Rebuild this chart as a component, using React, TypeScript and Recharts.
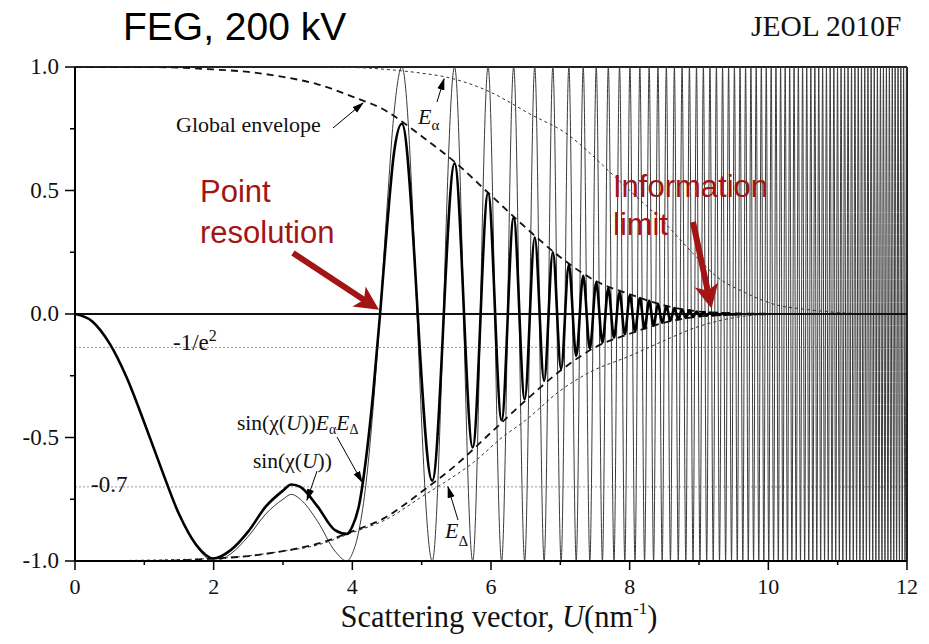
import React from "react";
import { LineChart, Line, XAxis, YAxis, ReferenceLine } from "recharts";

// Scattering vector U (nm^-1) for the smooth part of the transfer function
const headU = [0, 0.25, 0.5, 0.75, 1.0, 1.25, 1.5, 1.75, 2.0, 2.25, 2.5, 2.75, 3.0, 3.12, 3.25, 3.5, 3.75, 3.92, 4.0, 4.1, 4.2, 4.3, 4.4, 4.5, 4.6];
// sin(chi(U)) over headU
const thinHead = [0, -0.03, -0.12, -0.26, -0.44, -0.63, -0.81, -0.94, -1.0, -0.97, -0.9, -0.81, -0.75, -0.73, -0.75, -0.84, -0.96, -1.0, -0.97, -0.87, -0.68, -0.38, 0, 0.43, 0.81];
// sin(chi(U)) * Ea * Ed over headU
const thickHead = [0, -0.03, -0.12, -0.26, -0.44, -0.63, -0.81, -0.935, -0.99, -0.955, -0.88, -0.78, -0.715, -0.69, -0.7, -0.78, -0.875, -0.89, -0.86, -0.77, -0.58, -0.32, 0, 0.35, 0.65];

// U of each successive max / min of the oscillation (first one is a +1 peak)
const extremaU = [
  4.714, 5.153, 5.475, 5.736, 5.958, 6.153, 6.327, 6.486, 6.631, 6.766,
  6.892, 7.011, 7.123, 7.229, 7.33, 7.426, 7.518, 7.607, 7.692, 7.774,
  7.854, 7.93, 8.004, 8.077, 8.147, 8.215, 8.281, 8.345, 8.408, 8.469,
  8.529, 8.588, 8.645, 8.701, 8.756, 8.81, 8.862, 8.914, 8.964, 9.014,
  9.063, 9.111, 9.158, 9.205, 9.251, 9.296, 9.34, 9.384, 9.427, 9.469,
  9.511, 9.552, 9.592, 9.632, 9.672, 9.711, 9.749, 9.787, 9.825, 9.862,
  9.899, 9.935, 9.97, 10.006, 10.041, 10.076, 10.11, 10.144, 10.177, 10.21,
  10.243, 10.276, 10.308, 10.34, 10.371, 10.402, 10.433, 10.464, 10.494, 10.524,
  10.554, 10.583, 10.613, 10.642, 10.671, 10.699, 10.727, 10.755, 10.783, 10.811,
  10.838, 10.865, 10.892, 10.919, 10.945, 10.972, 10.998, 11.024, 11.049, 11.075,
  11.1, 11.126, 11.15, 11.175, 11.2, 11.225, 11.249, 11.273, 11.297, 11.321,
  11.344, 11.368, 11.391, 11.414, 11.437, 11.46, 11.483, 11.506, 11.528, 11.551,
  11.573, 11.595, 11.617, 11.639, 11.66, 11.682, 11.703, 11.725, 11.746, 11.767,
  11.788, 11.809, 11.829, 11.85, 11.871, 11.891, 11.911, 11.931, 11.951, 11.971,
  11.991,
];

// damped peak heights at the first extrema
const thickAmp = [
  0.77, 0.675, 0.61, 0.54, 0.49, 0.43, 0.39, 0.345, 0.31, 0.27,
  0.25, 0.223, 0.2, 0.17, 0.155, 0.14, 0.128, 0.116, 0.105, 0.096,
  0.088, 0.082, 0.077, 0.071, 0.065, 0.059, 0.053, 0.047, 0.041, 0.036,
  0.031, 0.027, 0.024, 0.021, 0.018, 0.016, 0.014, 0.012, 0.01, 0.009,
  0.008, 0.007, 0.006, 0.005, 0.004, 0.004, 0.003, 0.003, 0.002, 0.002,
];
const thickTailU = [9.55];
const thickTail = [0];

// global envelope Ea*Ed
const globalEnvU = [0, 1, 1.5, 2, 2.5, 3, 3.5, 4, 4.5, 4.71, 5.0, 5.5, 6.0, 6.5, 7.0, 7.5, 8.0, 8.5, 9.0, 9.5, 10, 10.5];
const globalEnv = [1, 1, 0.997, 0.99, 0.98, 0.96, 0.93, 0.88, 0.82, 0.78, 0.72, 0.61, 0.48, 0.35, 0.23, 0.135, 0.08, 0.035, 0.01, 0.003, 0.001, 0];
// spatial coherence envelope Ea
const alphaEnvU = [0, 3, 4, 4.5, 5.0, 5.34, 5.94, 6.56, 7.14, 7.43, 7.62, 8.0, 8.5, 9.0, 9.26, 9.64, 10.14, 10.5, 11.0, 11.5];
const alphaEnv = [1, 1, 0.998, 0.99, 0.975, 0.96, 0.905, 0.81, 0.72, 0.65, 0.6, 0.5, 0.37, 0.22, 0.15, 0.09, 0.035, 0.02, 0.006, 0];
// temporal coherence envelope Ed
const deltaEnvU = [0, 2, 3, 3.5, 4, 4.5, 5.0, 5.34, 5.75, 6.16, 6.5, 7.0, 7.43, 8.0, 8.44, 9.0, 9.5, 10];
const deltaEnv = [1, 0.99, 0.96, 0.935, 0.885, 0.83, 0.74, 0.68, 0.6, 0.5, 0.43, 0.31, 0.235, 0.17, 0.115, 0.05, 0.015, 0];

const xTicks = [0, 1, 2, 3, 4, 5, 6, 7, 8, 9, 10, 11, 12];
const yTicks = [-1, -0.75, -0.5, -0.25, 0, 0.25, 0.5, 0.75, 1];
const invE2Level = -0.1353;
const levelPoint7 = -0.7;

const SERIF = "'Liberation Serif', 'Times New Roman', serif";
const SANS = "'Liberation Sans', Arial, sans-serif";
const RED = "#a31414";

const pts = (us: number[], vs: number[]) => us.map((u, i) => ({ x: u, y: vs[i] }));

const thinData = [
  ...pts(headU, thinHead),
  ...extremaU.map((u, i) => ({ x: u, y: i % 2 === 0 ? 1 : -1 })),
];
const thickData = [
  ...pts(headU, thickHead),
  ...thickAmp.map((a, i) => ({ x: extremaU[i], y: i % 2 === 0 ? a : -a })),
  ...pts(thickTailU, thickTail),
];
const globalUpper = pts(globalEnvU, globalEnv);
const globalLower = pts(globalEnvU, globalEnv.map((v) => -v));
const alphaUpper = pts(alphaEnvU, alphaEnv);
const deltaLower = pts(deltaEnvU, deltaEnv.map((v) => -v));

const XTick = (props: any) => {
  const { x, y, payload } = props;
  const major = payload.value % 2 === 0;
  return (
    <g>
      <line x1={x} x2={x} y1={y} y2={y + (major ? 9 : 4)} stroke="#000" strokeWidth={1.5} />
      {major && (
        <text x={x} y={y + 33} textAnchor="middle" fontFamily={SERIF} fontSize={22} fill="#111">
          {payload.value}
        </text>
      )}
    </g>
  );
};

const YTick = (props: any) => {
  const { x, y, payload } = props;
  const major = payload.value % 0.5 === 0;
  return (
    <g>
      <line x1={x - (major ? 10 : 5)} x2={x} y1={y} y2={y} stroke="#000" strokeWidth={1.5} />
      {major && (
        <text x={x - 16} y={y + 7} textAnchor="end" fontFamily={SERIF} fontSize={23} fill="#111">
          {payload.value.toFixed(1)}
        </text>
      )}
    </g>
  );
};

const Annotations = () => (
  <svg width={929} height={644} style={{ position: "absolute", left: 0, top: 0, pointerEvents: "none" }}>
    <defs>
      <marker id="tipBlack" viewBox="0 0 10 10" refX="9" refY="5" markerWidth="12" markerHeight="12" orient="auto">
        <path d="M0,2 L10,5 L0,8 z" fill="#000" />
      </marker>
      <marker id="tipRed" viewBox="0 0 10 10" refX="3" refY="5" markerUnits="userSpaceOnUse" markerWidth="24" markerHeight="24" orient="auto">
        <path d="M0,0 L10,5 L0,10 L2.5,5 z" fill={RED} />
      </marker>
    </defs>

    <text x={123} y={40} fontFamily={SANS} fontSize={39} fill="#000">FEG, 200 kV</text>
    <text x={751} y={36} fontFamily={SERIF} fontSize={29.5} fill="#111">JEOL 2010F</text>

    <text x={176} y={132} fontFamily={SERIF} fontSize={22} fill="#111">Global envelope</text>
    <line x1={333} y1={128} x2={363} y2={103} stroke="#000" strokeWidth={1} markerEnd="url(#tipBlack)" />

    <text x={418} y={124} fontFamily={SERIF} fontSize={22} fontStyle="italic" fill="#111">
      E<tspan fontSize={15} fontStyle="normal" dy={6}>α</tspan>
    </text>
    <line x1={437} y1={102} x2={444} y2={79} stroke="#000" strokeWidth={1} markerEnd="url(#tipBlack)" />

    <text x={237} y={430} fontFamily={SERIF} fontSize={21.5} fill="#111">
      sin(χ(<tspan fontStyle="italic">U</tspan>))<tspan fontStyle="italic">E</tspan>
      <tspan fontSize={14} dy={4}>α</tspan>
      <tspan fontStyle="italic" dy={-4}>E</tspan>
      <tspan fontSize={14} dy={4}>Δ</tspan>
    </text>
    <line x1={337} y1={437} x2={362} y2={482} stroke="#000" strokeWidth={1} markerEnd="url(#tipBlack)" />

    <text x={253} y={468} fontFamily={SERIF} fontSize={21.5} fill="#111">
      sin(χ(<tspan fontStyle="italic">U</tspan>))
    </text>
    <line x1={317} y1={471} x2={307} y2={500} stroke="#000" strokeWidth={1} markerEnd="url(#tipBlack)" />

    <text x={445} y={538} fontFamily={SERIF} fontSize={22} fontStyle="italic" fill="#111">
      E<tspan fontSize={15} fontStyle="normal" dy={8}>Δ</tspan>
    </text>
    <line x1={458} y1={520} x2={448} y2={487} stroke="#000" strokeWidth={1} markerEnd="url(#tipBlack)" />

    <text x={173} y={350} fontFamily={SERIF} fontSize={23} fill="#111">
      -1/e<tspan fontSize={16} dy={-9}>2</tspan>
    </text>
    <text x={91} y={492} fontFamily={SERIF} fontSize={23} fill="#111">-0.7</text>

    <text x={200} y={202} fontFamily={SANS} fontSize={31} fill={RED}>Point</text>
    <text x={200} y={243} fontFamily={SANS} fontSize={31} fill={RED}>resolution</text>
    <line x1={293} y1={253} x2={365} y2={300.5} stroke={RED} strokeWidth={6} markerEnd="url(#tipRed)" />

    <text x={613} y={197} fontFamily={SANS} fontSize={31} fill={RED}>Information</text>
    <text x={613} y={235} fontFamily={SANS} fontSize={31} fill={RED}>limit</text>
    <line x1={693} y1={222} x2={708} y2={292} stroke={RED} strokeWidth={6} markerEnd="url(#tipRed)" />

    <text x={499} y={627} textAnchor="middle" fontFamily={SERIF} fontSize={30.5} fill="#111">
      Scattering vector, <tspan fontStyle="italic">U</tspan>(nm<tspan fontSize={17} dy={-13}>-1</tspan>
      <tspan dy={13}>)</tspan>
    </text>
  </svg>
);

const App: React.FC = () => {
  return (
    <div style={{ position: "absolute", left: 0, top: 0, width: 929, height: 644, background: "#fff" }}>
      <LineChart width={929} height={644} margin={{ top: 67, right: 22, bottom: 0, left: 0 }}>
        <XAxis
          dataKey="x"
          type="number"
          domain={[0, 12]}
          ticks={xTicks}
          interval={0}
          allowDataOverflow
          height={83}
          tickSize={0}
          tickMargin={0}
          tickLine={false}
          axisLine={{ stroke: "#000", strokeWidth: 2 }}
          tick={(p: any) => <XTick {...p} />}
        />
        <YAxis
          type="number"
          domain={[-1, 1]}
          ticks={yTicks}
          interval={0}
          allowDataOverflow
          width={75}
          tickSize={0}
          tickMargin={0}
          tickLine={false}
          axisLine={{ stroke: "#000", strokeWidth: 2 }}
          tick={(p: any) => <YTick {...p} />}
        />
        <ReferenceLine y={invE2Level} stroke="#9a9a9a" strokeWidth={1} strokeDasharray="2 2" />
        <ReferenceLine y={levelPoint7} stroke="#9a9a9a" strokeWidth={1} strokeDasharray="2 2" />
        <ReferenceLine y={1} stroke="#222" strokeWidth={2} />
        <ReferenceLine x={12} stroke="#222" strokeWidth={2} />

        <Line data={thinData} dataKey="y" name="sin" type="monotone" stroke="#3a3a3a" strokeWidth={1} dot={false} activeDot={false} isAnimationActive={false} />
        <Line data={alphaUpper} dataKey="y" name="Ea" type="monotone" stroke="#333" strokeWidth={1} strokeDasharray="3 3" dot={false} activeDot={false} isAnimationActive={false} />
        <Line data={deltaLower} dataKey="y" name="Ed" type="monotone" stroke="#333" strokeWidth={1} strokeDasharray="3 3" dot={false} activeDot={false} isAnimationActive={false} />
        <Line data={globalUpper} dataKey="y" name="global+" type="monotone" stroke="#111" strokeWidth={1.8} strokeDasharray="7 5" dot={false} activeDot={false} isAnimationActive={false} />
        <Line data={globalLower} dataKey="y" name="global-" type="monotone" stroke="#111" strokeWidth={1.8} strokeDasharray="7 5" dot={false} activeDot={false} isAnimationActive={false} />
        <ReferenceLine y={0} stroke="#111" strokeWidth={2} />
        <Line data={thickData} dataKey="y" name="damped" type="monotone" stroke="#000" strokeWidth={2.6} dot={false} activeDot={false} isAnimationActive={false} />
      </LineChart>
      <Annotations />
    </div>
  );
};

export default App;
